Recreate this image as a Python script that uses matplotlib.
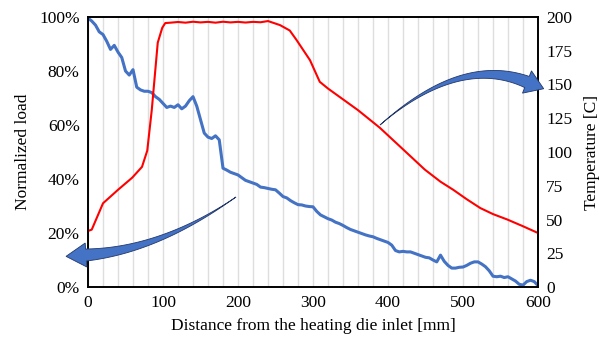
import numpy as np
import matplotlib.pyplot as plt
from matplotlib.patches import Polygon

plt.rcParams['font.family'] = ['Liberation Serif', 'DejaVu Serif']
plt.rcParams['font.size'] = 12

# normalized load (%), every 5 mm from 0 to 600
load_x = list(range(0, 601, 5))
load_y = [99.6, 98.5, 97.0, 94.5, 93.5, 91.0, 88.0, 89.5, 87.0, 85.0,
          80.0, 78.5, 80.5, 74.0, 73.0, 72.5, 72.5, 72.0, 70.5, 69.5,
          68.0, 66.5, 67.0, 66.5, 67.5, 66.0, 67.0, 69.0, 70.5, 67.0,
          62.0, 57.0, 55.5, 55.0, 56.0, 54.5, 44.0, 43.3, 42.5, 42.0,
          41.5, 40.5, 39.5, 39.0, 38.5, 38.0, 37.0, 36.8, 36.5, 36.2,
          36.0, 34.8, 33.5, 33.0, 32.0, 31.2, 30.5, 30.4, 30.0, 29.8,
          29.7, 28.0, 26.7, 26.0, 25.3, 24.8, 24.0, 23.5, 22.8, 22.0,
          21.3, 20.8, 20.3, 19.8, 19.3, 18.9, 18.6, 18.0, 17.5, 17.0,
          16.5, 15.5, 13.5, 13.0, 13.2, 13.0, 13.0, 12.5, 12.0, 11.5,
          11.0, 10.8, 10.0, 9.3, 11.8, 9.5, 8.0, 7.0, 7.0, 7.3,
          7.4, 8.0, 8.8, 9.3, 9.3, 8.5, 7.5, 6.0, 4.0, 3.8,
          4.0, 3.5, 3.8, 3.0, 2.2, 1.0, 0.7, 2.0, 2.5, 2.0, 0.5]

# temperature (C)
temp_x = [0, 5, 20, 40, 59, 72, 79, 85, 89, 93, 99, 103, 110, 120, 130, 140,
          150, 160, 170, 180, 190, 200, 210, 220, 230, 240, 256, 269, 278,
          296, 309, 320, 360, 389, 420, 449, 470, 487, 505, 523, 540, 559,
          580, 600]
temp_y = [41.5, 42.5, 62, 72, 81, 89, 101, 131, 156, 181, 192, 195.5, 195.8,
          196.3, 195.8, 196.5, 196.0, 196.4, 195.8, 196.5, 196.0, 196.4, 195.9,
          196.4, 196.1, 197.0, 194, 190, 183, 168, 152, 147, 131, 118, 102, 87,
          78, 72, 65, 58.5, 54, 50, 45, 40]

fig = plt.figure(figsize=(5.99, 3.41), dpi=100)
ax = fig.add_axes([88/599, 1-287/341, 450/599, 270/341])
ax2 = ax.twinx()

ax.plot(load_x, load_y, color='#4472C4', lw=2.2)
ax2.plot(temp_x, temp_y, color='#FF0000', lw=1.5)

ax.set_xlim(0, 600)
ax.set_ylim(0, 100)
ax2.set_ylim(0, 200)
ax.set_xticks(range(0, 601, 100))
ax.set_xticks(range(0, 601, 20), minor=True)
ax.set_yticks(range(0, 101, 20))
ax.set_yticklabels([f'{v}%' for v in range(0, 101, 20)])
ax2.set_yticks(range(0, 201, 25))
ax.grid(True, which='both', axis='x', color='#dedede', lw=1)
ax.set_axisbelow(True)
for a in (ax, ax2):
    a.tick_params(which='both', length=0, labelsize=12.5, pad=6)
    for s in a.spines.values():
        s.set_color('black')
        s.set_linewidth(1.2)

ax.set_xlabel('Distance from the heating die inlet [mm]', fontsize=12.5, labelpad=5)
ax.set_ylabel('Normalized load', fontsize=12.5, labelpad=6)
ax2.set_ylabel('Temperature [C]', fontsize=12.5, labelpad=8)


def curved_arrow(p0, p1, p2, wmax, head_len, head_w):
    p0, p1, p2 = np.array(p0, float), np.array(p1, float), np.array(p2, float)
    t = np.linspace(0, 1, 80)[:, None]
    pts = (1-t)**2*p0 + 2*(1-t)*t*p1 + t**2*p2
    d = 2*(1-t)*(p1-p0) + 2*t*(p2-p1)
    d = d / np.linalg.norm(d, axis=1)[:, None]
    nrm = np.column_stack([-d[:, 1], d[:, 0]])
    w = (wmax * t[:, 0]**1.3 / 2)[:, None]
    upper = pts + nrm*w
    lower = pts - nrm*w
    tip = p2 + d[-1]*head_len
    b1 = p2 + nrm[-1]*head_w/2
    b2 = p2 - nrm[-1]*head_w/2
    poly = np.vstack([upper, b1, tip, b2, lower[::-1]])
    poly = np.column_stack([poly[:, 0]/599, 1 - poly[:, 1]/341])
    fig.patches.append(Polygon(poly, closed=True, transform=fig.transFigure,
                               facecolor='#4472C4', edgecolor='#22386b',
                               lw=0.6, zorder=5))


curved_arrow((236, 197), (160, 250), (86, 255), 12, 20, 24)
curved_arrow((380, 125), (460, 55), (527, 82), 12, 18, 24)

fig.savefig('out.png', dpi=100)
